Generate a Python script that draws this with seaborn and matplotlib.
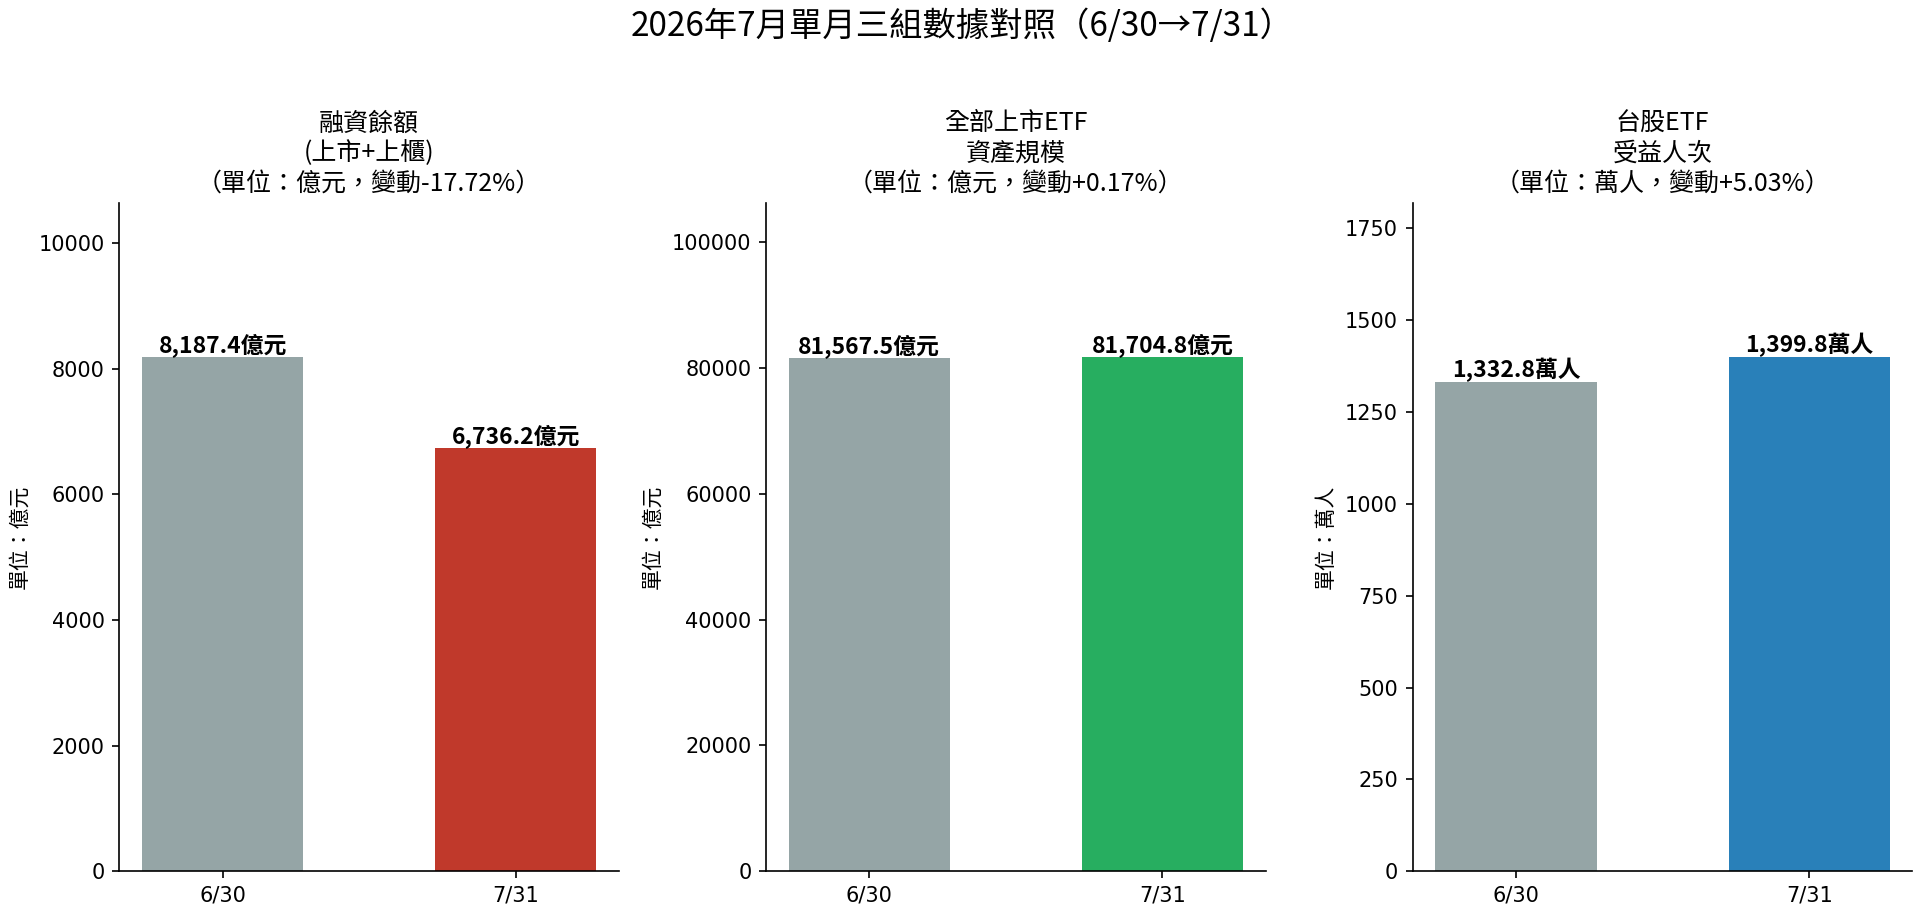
import numpy as np
import pandas as pd
import matplotlib
matplotlib.use("Agg")
import matplotlib.pyplot as plt
import seaborn as sns

# data
dates = ["6/30", "7/31"]
margin_values = [8187.4, 6736.2]
etf_assets = [81567.5, 81704.8]
etf_holders = [1332.8, 1399.8]

panel_titles = [
    "融資餘額\n(上市+上櫃)\n（單位：億元，變動-17.72%）",
    "全部上市ETF\n資產規模\n（單位：億元，變動+0.17%）",
    "台股ETF\n受益人次\n（單位：萬人，變動+5.03%）",
]
y_labels = ["單位：億元", "單位：億元", "單位：萬人"]
units = ["億元", "億元", "萬人"]
colors = [
    ["#95a5a6", "#c0392b"],
    ["#95a5a6", "#27ae60"],
    ["#95a5a6", "#2980b9"],
]

# CJK font only for the texts, tick labels stay in DejaVu Sans
cjk = ['Noto Sans CJK TC', 'DejaVu Sans']

fig, axes = plt.subplots(1, 3, figsize=(1924 / 150, 918 / 150), dpi=150)

series = [margin_values, etf_assets, etf_holders]
for ax, vals, title, ylab, unit, pal in zip(axes, series, panel_titles, y_labels, units, colors):
    df = pd.DataFrame({"date": dates, "value": vals})
    sns.barplot(data=df, x="date", y="value", hue="date", palette=pal,
                width=0.55, legend=False, ax=ax, saturation=1)
    for i, v in enumerate(vals):
        ax.text(i, v, f"{v:,.1f}{unit}", ha="center", va="bottom",
                fontsize=11, fontweight="bold", family=cjk)
    ax.set_xlim(-0.3525, 1.3525)
    ax.set_ylim(0, max(vals) * 1.3)
    ax.set_title(title, fontsize=12, family=cjk)
    ax.set_xlabel("")
    ax.set_ylabel(ylab, fontsize=10, family=cjk)
    ax.tick_params(labelsize=10)
    sns.despine(ax=ax)

fig.suptitle("2026年7月單月三組數據對照（6/30→7/31）", fontsize=16, family=cjk, y=0.99)
plt.subplots_adjust(left=0.062, right=0.994, top=0.779, bottom=0.051, wspace=0.294)
plt.savefig("out.png", dpi=150)
